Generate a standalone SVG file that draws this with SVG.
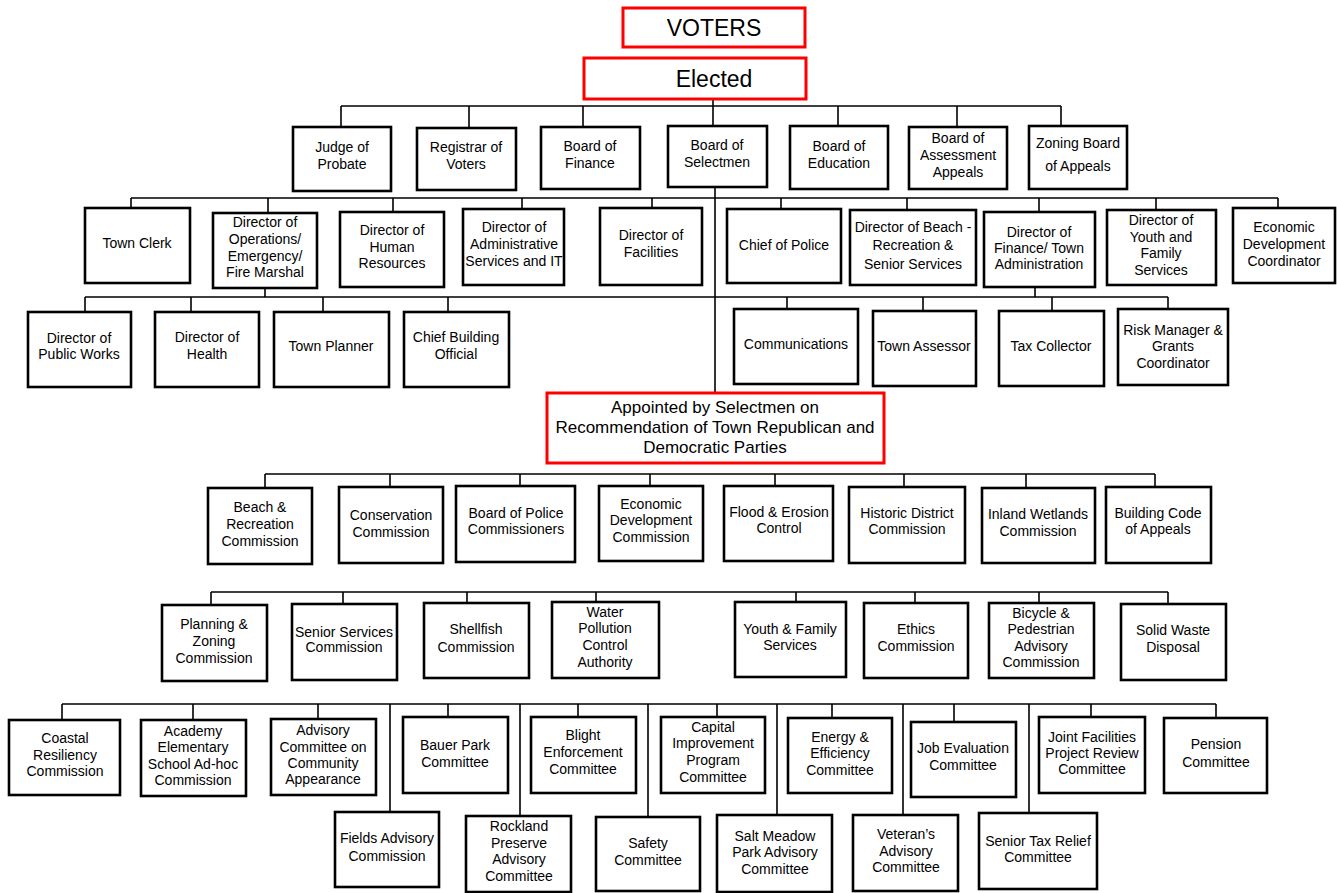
<svg xmlns="http://www.w3.org/2000/svg" width="1337" height="893" viewBox="0 0 1337 893">
<style>
.box{fill:#fff;stroke:#000;stroke-width:2.6}
.red{fill:#fff;stroke:#f00;stroke-width:3}
.conn{stroke:#000;stroke-width:1.6;fill:none}
text{font-family:"Liberation Sans",Arial,sans-serif;font-size:14px;text-anchor:middle;fill:#000}
.big{font-size:23px}
.mid{font-size:17px}
</style>
<rect width="1337" height="893" fill="#fff"/>
<g id="connectors">
<path class="conn" d="M713 99V126M341 106H1061M341 106V127M469 106V128M583 106V127M838 106V126M957 106V127M1061 106V126"/>
<path class="conn" d="M715 187V393"/>
<path class="conn" d="M131 198H1278M131 198V208M268 198V213M393 198V212M522 198V209M652 198V208M781 198V209M907 198V210M1039 198V212M1156 198V210M1278 198V208"/>
<path class="conn" d="M265 288V297M1035 287V297M85 297H1168M85 297V312M191 297V312M323 297V312M448 297V312M787 297V309M923 297V311M1052 297V311M1168 297V309"/>
<path class="conn" d="M265 474H1155M265 474V488M390 474V487M520 474V486M650 474V486M775 474V486M904 474V487M1026 474V488M1155 474V487"/>
<path class="conn" d="M211 592H1168M211 592V605M343 592V604M467 592V603M596 592V602M796 592V602M915 592V603M1039 592V603M1168 592V604"/>
<path class="conn" d="M62 704H1216M62 704V720M193 704V720M318 704V719M448 704V717M578 704V717M717 704V717M832 704V718M954 704V722M1091 704V717M1216 704V718M390 704V812M520 704V816M648 704V817M777 704V815M903 704V815M1029 704V813"/>
</g>
<g id="voters"><rect class="red" x="623" y="8" width="182" height="39"/><text class="big" x="714" y="36">VOTERS</text></g>
<g id="elected"><rect class="red" x="584" y="58" width="222" height="41"/><text class="big" x="714" y="87">Elected</text></g>
<g id="judge"><rect class="box" x="293" y="127" width="98" height="64"/><text x="342"><tspan x="342" y="152">Judge of</tspan><tspan x="342" y="169">Probate</tspan></text></g>
<g id="registrar"><rect class="box" x="417" y="128" width="99" height="62"/><text><tspan x="466" y="152">Registrar of</tspan><tspan x="466" y="169">Voters</tspan></text></g>
<g id="finance-board"><rect class="box" x="541" y="127" width="99" height="62"/><text><tspan x="590" y="151">Board of</tspan><tspan x="590" y="168">Finance</tspan></text></g>
<g id="selectmen"><rect class="box" x="668" y="126" width="99" height="61"/><text><tspan x="717" y="150">Board of</tspan><tspan x="717" y="167">Selectmen</tspan></text></g>
<g id="education"><rect class="box" x="790" y="126" width="98" height="63"/><text><tspan x="839" y="151">Board of</tspan><tspan x="839" y="168">Education</tspan></text></g>
<g id="assessment"><rect class="box" x="909" y="127" width="98" height="62"/><text><tspan x="958" y="143">Board of</tspan><tspan x="958" y="160">Assessment</tspan><tspan x="958" y="177">Appeals</tspan></text></g>
<g id="zoning-board"><rect class="box" x="1029" y="126" width="98" height="63"/><text><tspan x="1078" y="148">Zoning Board</tspan><tspan x="1078" y="171">of Appeals</tspan></text></g>
<g id="town-clerk"><rect class="box" x="85" y="208" width="105" height="75"/><text x="137" y="248">Town Clerk</text></g>
<g id="dir-operations"><rect class="box" x="213" y="213" width="104" height="75"/><text><tspan x="265" y="227">Director of</tspan><tspan x="265" y="244">Operations/</tspan><tspan x="265" y="261">Emergency/</tspan><tspan x="265" y="277">Fire Marshal</tspan></text></g>
<g id="dir-hr"><rect class="box" x="340" y="212" width="104" height="75"/><text><tspan x="392" y="235">Director of</tspan><tspan x="392" y="252">Human</tspan><tspan x="392" y="268">Resources</tspan></text></g>
<g id="dir-admin"><rect class="box" x="463" y="209" width="101" height="76"/><text><tspan x="514" y="232">Director of</tspan><tspan x="514" y="249">Administrative</tspan><tspan x="514" y="266">Services and  IT</tspan></text></g>
<g id="dir-facilities"><rect class="box" x="600" y="208" width="102" height="77"/><text><tspan x="651" y="240">Director of</tspan><tspan x="651" y="257">Facilities</tspan></text></g>
<g id="chief-police"><rect class="box" x="727" y="209" width="114" height="74"/><text x="784" y="250">Chief of Police</text></g>
<g id="dir-beach"><rect class="box" x="850" y="210" width="126" height="75"/><text><tspan x="913" y="232">Director of Beach -</tspan><tspan x="913" y="250">Recreation &amp;</tspan><tspan x="913" y="269">Senior Services</tspan></text></g>
<g id="dir-finance"><rect class="box" x="984" y="212" width="111" height="75"/><text><tspan x="1039" y="237">Director of</tspan><tspan x="1039" y="253">Finance/ Town</tspan><tspan x="1039" y="269">Administration</tspan></text></g>
<g id="dir-youth"><rect class="box" x="1107" y="210" width="109" height="75"/><text><tspan x="1161" y="225">Director of</tspan><tspan x="1161" y="242">Youth and</tspan><tspan x="1161" y="258">Family</tspan><tspan x="1161" y="275">Services</tspan></text></g>
<g id="econ-coord"><rect class="box" x="1233" y="208" width="102" height="75"/><text><tspan x="1284" y="232">Economic</tspan><tspan x="1284" y="249">Development</tspan><tspan x="1284" y="266">Coordinator</tspan></text></g>
<g id="public-works"><rect class="box" x="28" y="312" width="103" height="75"/><text><tspan x="79" y="343">Director of</tspan><tspan x="79" y="359">Public Works</tspan></text></g>
<g id="health"><rect class="box" x="155" y="312" width="104" height="75"/><text><tspan x="207" y="342">Director of</tspan><tspan x="207" y="359">Health</tspan></text></g>
<g id="town-planner"><rect class="box" x="274" y="312" width="115" height="75"/><text x="331" y="351">Town Planner</text></g>
<g id="building-official"><rect class="box" x="404" y="312" width="105" height="75"/><text><tspan x="456" y="342">Chief Building</tspan><tspan x="456" y="359">Official</tspan></text></g>
<g id="communications"><rect class="box" x="734" y="309" width="124" height="75"/><text x="796" y="349">Communications</text></g>
<g id="town-assessor"><rect class="box" x="873" y="311" width="103" height="75"/><text x="924" y="351">Town Assessor</text></g>
<g id="tax-collector"><rect class="box" x="999" y="311" width="105" height="75"/><text x="1051" y="351">Tax Collector</text></g>
<g id="risk-manager"><rect class="box" x="1118" y="309" width="110" height="76"/><text><tspan x="1173" y="335">Risk Manager &amp;</tspan><tspan x="1173" y="351">Grants</tspan><tspan x="1173" y="368">Coordinator</tspan></text></g>
<g id="appointed"><rect class="red" x="547" y="393" width="337" height="70"/><text class="mid"><tspan x="715" y="413">Appointed by Selectmen on</tspan><tspan x="715" y="433">Recommendation of Town Republican and</tspan><tspan x="715" y="453">Democratic Parties</tspan></text></g>
<g id="beach-rec"><rect class="box" x="208" y="488" width="104" height="76"/><text><tspan x="260" y="512">Beach &amp;</tspan><tspan x="260" y="529">Recreation</tspan><tspan x="260" y="546">Commission</tspan></text></g>
<g id="conservation"><rect class="box" x="339" y="487" width="104" height="76"/><text><tspan x="391" y="520">Conservation</tspan><tspan x="391" y="537">Commission</tspan></text></g>
<g id="police-comm"><rect class="box" x="456" y="486" width="119" height="76"/><text><tspan x="516" y="518">Board of Police</tspan><tspan x="516" y="534">Commissioners</tspan></text></g>
<g id="econ-comm"><rect class="box" x="599" y="486" width="104" height="75"/><text><tspan x="651" y="509">Economic</tspan><tspan x="651" y="525">Development</tspan><tspan x="651" y="542">Commission</tspan></text></g>
<g id="flood"><rect class="box" x="724" y="486" width="109" height="75"/><text><tspan x="779" y="517">Flood &amp; Erosion</tspan><tspan x="779" y="533">Control</tspan></text></g>
<g id="historic"><rect class="box" x="849" y="487" width="116" height="76"/><text><tspan x="907" y="518">Historic District</tspan><tspan x="907" y="534">Commission</tspan></text></g>
<g id="wetlands"><rect class="box" x="982" y="488" width="113" height="75"/><text><tspan x="1038" y="519">Inland Wetlands</tspan><tspan x="1038" y="536">Commission</tspan></text></g>
<g id="building-code"><rect class="box" x="1106" y="487" width="105" height="76"/><text><tspan x="1158" y="518">Building Code</tspan><tspan x="1158" y="534">of Appeals</tspan></text></g>
<g id="planning"><rect class="box" x="162" y="605" width="105" height="76"/><text><tspan x="214" y="629">Planning &amp;</tspan><tspan x="214" y="646">Zoning</tspan><tspan x="214" y="663">Commission</tspan></text></g>
<g id="senior-services"><rect class="box" x="292" y="604" width="105" height="76"/><text><tspan x="344" y="637">Senior Services</tspan><tspan x="344" y="652">Commission</tspan></text></g>
<g id="shellfish"><rect class="box" x="424" y="603" width="105" height="75"/><text><tspan x="476" y="634">Shellfish</tspan><tspan x="476" y="652">Commission</tspan></text></g>
<g id="wpca"><rect class="box" x="552" y="602" width="107" height="76"/><text><tspan x="605" y="617">Water</tspan><tspan x="605" y="633">Pollution</tspan><tspan x="605" y="650">Control</tspan><tspan x="605" y="667">Authority</tspan></text></g>
<g id="youth-family"><rect class="box" x="735" y="602" width="111" height="75"/><text><tspan x="790" y="634">Youth &amp; Family</tspan><tspan x="790" y="650">Services</tspan></text></g>
<g id="ethics"><rect class="box" x="864" y="603" width="104" height="75"/><text><tspan x="916" y="634">Ethics</tspan><tspan x="916" y="651">Commission</tspan></text></g>
<g id="bicycle"><rect class="box" x="989" y="603" width="105" height="75"/><text><tspan x="1041" y="618">Bicycle &amp;</tspan><tspan x="1041" y="634">Pedestrian</tspan><tspan x="1041" y="651">Advisory</tspan><tspan x="1041" y="667">Commission</tspan></text></g>
<g id="solid-waste"><rect class="box" x="1121" y="604" width="105" height="76"/><text><tspan x="1173" y="635">Solid Waste</tspan><tspan x="1173" y="652">Disposal</tspan></text></g>
<g id="coastal"><rect class="box" x="9" y="720" width="111" height="75"/><text><tspan x="65" y="743">Coastal</tspan><tspan x="65" y="760">Resiliency</tspan><tspan x="65" y="776">Commission</tspan></text></g>
<g id="academy"><rect class="box" x="141" y="720" width="105" height="76"/><text><tspan x="193" y="736">Academy</tspan><tspan x="193" y="752">Elementary</tspan><tspan x="193" y="769">School Ad-hoc</tspan><tspan x="193" y="785">Commission</tspan></text></g>
<g id="appearance"><rect class="box" x="271" y="719" width="105" height="76"/><text><tspan x="323" y="735">Advisory</tspan><tspan x="323" y="752">Committee on</tspan><tspan x="323" y="768">Community</tspan><tspan x="323" y="784">Appearance</tspan></text></g>
<g id="bauer"><rect class="box" x="403" y="717" width="105" height="76"/><text><tspan x="455" y="750">Bauer Park</tspan><tspan x="455" y="767">Committee</tspan></text></g>
<g id="blight"><rect class="box" x="531" y="717" width="105" height="76"/><text><tspan x="583" y="740">Blight</tspan><tspan x="583" y="757">Enforcement</tspan><tspan x="583" y="774">Committee</tspan></text></g>
<g id="capital"><rect class="box" x="661" y="717" width="104" height="76"/><text><tspan x="713" y="732">Capital</tspan><tspan x="713" y="748">Improvement</tspan><tspan x="713" y="765">Program</tspan><tspan x="713" y="782">Committee</tspan></text></g>
<g id="energy"><rect class="box" x="788" y="718" width="104" height="75"/><text><tspan x="840" y="742">Energy &amp;</tspan><tspan x="840" y="758">Efficiency</tspan><tspan x="840" y="775">Committee</tspan></text></g>
<g id="job-eval"><rect class="box" x="911" y="722" width="105" height="75"/><text><tspan x="963" y="753">Job Evaluation</tspan><tspan x="963" y="770">Committee</tspan></text></g>
<g id="joint-facilities"><rect class="box" x="1039" y="717" width="106" height="76"/><text><tspan x="1092" y="742">Joint Facilities</tspan><tspan x="1092" y="758">Project Review</tspan><tspan x="1092" y="774">Committee</tspan></text></g>
<g id="pension"><rect class="box" x="1164" y="718" width="103" height="75"/><text><tspan x="1216" y="749">Pension</tspan><tspan x="1216" y="767">Committee</tspan></text></g>
<g id="fields"><rect class="box" x="335" y="812" width="104" height="75"/><text><tspan x="387" y="843">Fields Advisory</tspan><tspan x="387" y="861">Commission</tspan></text></g>
<g id="rockland"><rect class="box" x="466" y="816" width="105" height="76"/><text><tspan x="519" y="831">Rockland</tspan><tspan x="519" y="848">Preserve</tspan><tspan x="519" y="864">Advisory</tspan><tspan x="519" y="881">Committee</tspan></text></g>
<g id="safety"><rect class="box" x="596" y="817" width="104" height="74"/><text><tspan x="648" y="848">Safety</tspan><tspan x="648" y="865">Committee</tspan></text></g>
<g id="salt-meadow"><rect class="box" x="717" y="815" width="115" height="77"/><text><tspan x="775" y="841">Salt Meadow</tspan><tspan x="775" y="857">Park Advisory</tspan><tspan x="775" y="874">Committee</tspan></text></g>
<g id="veterans"><rect class="box" x="853" y="815" width="105" height="76"/><text><tspan x="906" y="839">Veteran’s</tspan><tspan x="906" y="856">Advisory</tspan><tspan x="906" y="872">Committee</tspan></text></g>
<g id="senior-tax"><rect class="box" x="979" y="813" width="118" height="76"/><text><tspan x="1038" y="846">Senior Tax Relief</tspan><tspan x="1038" y="862">Committee</tspan></text></g>
</svg>
